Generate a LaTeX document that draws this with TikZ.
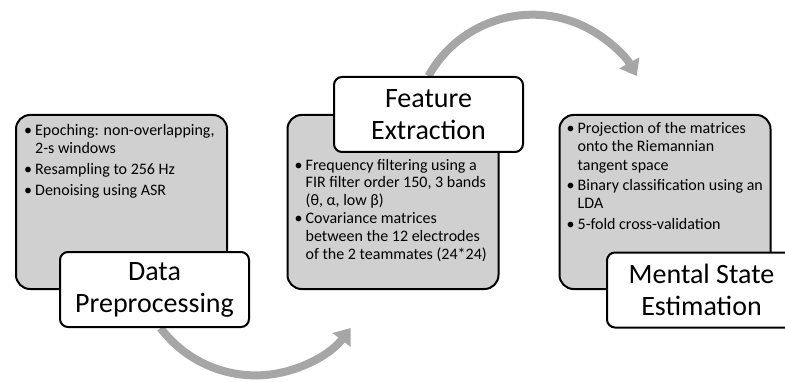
\documentclass[tikz,border=0pt]{standalone}
\usepackage{fontspec}
\setmainfont{Carlito}
\usepackage{tikz}
\usetikzlibrary{arrows.meta, backgrounds}

\definecolor{boxgray}{RGB}{208,208,208}
\definecolor{arrowgray}{RGB}{166,166,166}

\begin{document}
\begin{tikzpicture}[
    x=1pt, y=1pt,
    stepbox/.style={draw, line width=2pt, rounded corners=14pt, fill=boxgray,
        minimum width=211pt, minimum height=174pt, inner sep=0pt},
    titlebox/.style={draw, line width=2pt, rounded corners=8pt, fill=white,
        minimum width=189pt, minimum height=75pt, inner sep=0pt, align=center,
        font=\fontsize{28}{32}\selectfont},
    itemlist/.style={anchor=north west, inner sep=0pt, font=\fontsize{16}{18}\selectfont},
    cyclearrow/.style={draw=arrowgray, line width=8pt, -{Triangle[width=22pt,length=15pt]}}
]
\useasboundingbox (0,0) rectangle (785,381);

% Step boxes
\node[stepbox] (prepbox) at (121.5,179) {};
\node[stepbox] (featbox) at (393,179) {};
\node[stepbox] (estbox) at (665,179) {};

% Bullet lists
\node[itemlist] (preplist) at ([shift={(9pt,-8.5pt)}]prepbox.north west) {%
\begin{tabular}{@{}l@{\hspace{3pt}}l@{}}
\textbullet & Epoching: non-overlapping,\\
 & 2-s windows\\[3pt]
\textbullet & Resampling to 256 Hz\\[3pt]
\textbullet & Denoising using ASR
\end{tabular}};

\node[itemlist, font=\fontsize{16}{17.8}\selectfont] (featlist) at ([shift={(8pt,-43.5pt)}]featbox.north west) {%
\begin{tabular}{@{}l@{\hspace{3pt}}l@{}}
\textbullet & Frequency filtering using a\\
 & FIR filter order 150, 3 bands\\
 & (θ, α, low β)\\
\textbullet & Covariance matrices\\
 & between the 12 electrodes\\
 & of the 2 teammates (24*24)
\end{tabular}};

\node[itemlist, font=\fontsize{16}{18.3}\selectfont] (estlist) at ([shift={(8pt,-6.5pt)}]estbox.north west) {%
\begin{tabular}{@{}l@{\hspace{3pt}}l@{}}
\textbullet & Projection of the matrices\\
 & onto the Riemannian\\
 & tangent space\\[2pt]
\textbullet & Binary classification using an\\
 & LDA\\[2pt]
\textbullet & 5-fold cross-validation
\end{tabular}};

% Titles
\node[titlebox] (prep) at (154.5,91.5) {Data\\Preprocessing};
\node[titlebox] (feat) at (428.5,266.5) {Feature\\Extraction};
\node[titlebox] (est) at (701.5,91) {Mental State\\Estimation};

% Arrows between the steps
\begin{scope}[on background layer]
\draw[cyclearrow] ([xshift=6pt]prep.south) arc[start angle=217, end angle=323, radius=119];
\draw[cyclearrow] (feat.north) arc[start angle=151, end angle=29, radius=119];
\end{scope}

\end{tikzpicture}
\end{document}
